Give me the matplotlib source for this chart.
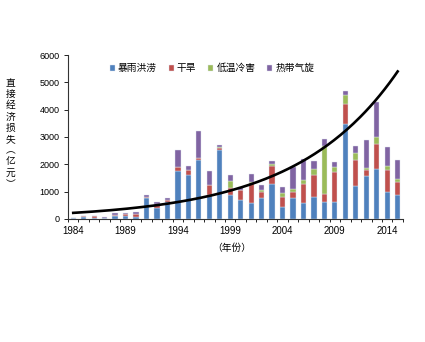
import matplotlib
matplotlib.use("Agg")
import matplotlib.pyplot as plt
import numpy as np

plt.rcParams['font.family'] = ['Liberation Sans', 'Noto Sans CJK SC', 'DejaVu Sans']

# 1984-2015 direct economic losses by disaster type (100 million yuan)
years = list(range(1984, 2016))
flood = [50, 60, 50, 50, 110, 100, 80, 750, 390, 610,
         1745, 1625, 2170, 880, 2510, 870, 690, 570, 775, 1260,
         450, 750, 570, 790, 607, 607, 3480, 1200, 1560, 1843,
         970, 873]
drought = [0, 30, 40, 0, 50, 80, 100, 60, 150, 70,
           155, 155, 50, 350, 70, 250, 365, 760, 220, 680,
           360, 240, 700, 800, 300, 1115, 730, 945, 220, 885,
           835, 472]
cold = [0, 0, 0, 0, 0, 0, 0, 0, 0, 0,
        0, 0, 20, 0, 60, 265, 0, 20, 60, 70,
        120, 100, 170, 220, 1780, 160, 330, 280, 80, 265,
        120, 100]
cyclone = [0, 30, 30, 23, 45, 50, 85, 60, 70, 95,
           610, 150, 970, 520, 60, 215, 120, 290, 180, 110,
           220, 810, 760, 300, 245, 190, 160, 240, 1030, 1275,
           700, 700]
series_names = ['暴雨洪涝', '干旱', '低温冷害', '热带气旋']
series_colors = ['#4F81BD', '#C0504D', '#9BBB59', '#8064A2']
tick_years = [1984, 1989, 1994, 1999, 2004, 2009, 2014]

# exponential trend line: values at the first and last year
trend_start = 220
trend_end = 5400

fig = plt.figure(figsize=(4.25, 3.42), dpi=100)
ax = fig.add_axes([0.16, 0.36, 0.788, 0.479])

x = np.arange(len(years))
bottom = np.zeros(len(years))
for vals, name, color in zip([flood, drought, cold, cyclone], series_names, series_colors):
    ax.bar(x, vals, width=0.5, bottom=bottom, color=color, edgecolor='#dfe6f0',
           linewidth=0.3, label=name, zorder=2)
    bottom += np.array(vals)

tt = np.linspace(0, len(years) - 1, 200)
rate = np.log(trend_end / trend_start) / (len(years) - 1)
ax.plot(tt, trend_start * np.exp(rate * tt), color='black', linewidth=1.9, zorder=3)

ax.set_xlim(-0.5, len(years) - 0.5)
ax.set_ylim(0, 6000)
ax.set_yticks(range(0, 6001, 1000))
ax.tick_params(axis='y', labelsize=6.5, length=3, width=0.6, pad=3, direction='out')
ax.set_xticks([years.index(y) for y in tick_years])
ax.set_xticklabels([str(y) for y in tick_years])
ax.set_xticks(np.arange(-0.5, len(years)), minor=True)
ax.tick_params(axis='x', which='major', labelsize=7, length=0, pad=5)
ax.tick_params(axis='x', which='minor', length=2.5, width=0.6, direction='out')
for side in ['top', 'right']:
    ax.spines[side].set_visible(False)
for side in ['left', 'bottom']:
    ax.spines[side].set_linewidth(0.8)
    ax.spines[side].set_color('#333333')

ax.legend(loc='center', bbox_to_anchor=(0.43, 0.92), ncol=4, frameon=False,
          prop={'family': ['Noto Sans CJK SC'], 'size': 7}, handlelength=0.55,
          handleheight=0.55, handletextpad=0.3, columnspacing=1.2)

ylab = '\n'.join(list('直接经济损失') + ['︵', '亿', '元', '︶'])
fig.text(0.025, 0.61, ylab, family=['Noto Sans CJK SC'], fontsize=7, ha='center',
         va='center', linespacing=1.15)
fig.text(0.545, 0.275, '（年份）', family=['Noto Sans CJK SC'], fontsize=7, ha='center',
         va='center')

fig.savefig('out.png', dpi=100)
